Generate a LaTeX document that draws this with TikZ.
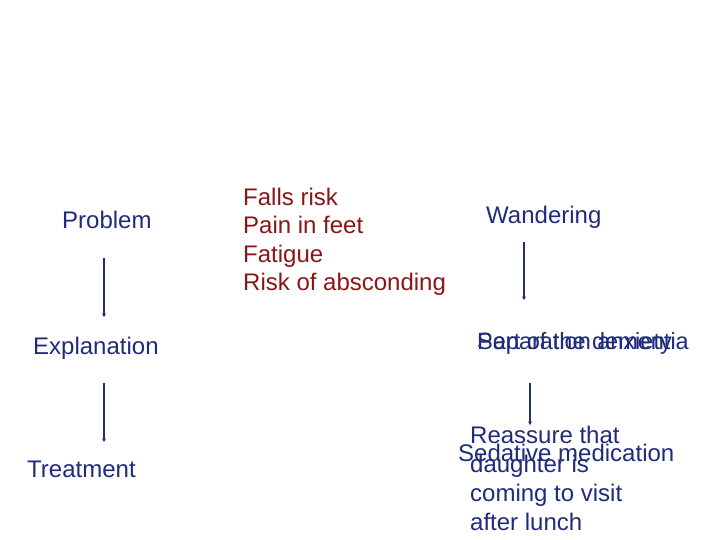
\documentclass[tikz,border=0pt]{standalone}
\usepackage{fontspec}
\setmainfont{Liberation Sans}
\usetikzlibrary{arrows.meta}
\definecolor{navy}{HTML}{1F2B7B}
\definecolor{darkred}{HTML}{8B1616}
\definecolor{linecol}{HTML}{23306E}
\begin{document}
\begin{tikzpicture}[x=1pt,y=1pt,
  lbl/.style={anchor=base west,inner sep=0pt,text=navy,font=\fontsize{24}{28.8}\selectfont},
  redlbl/.style={lbl,text=darkred},
  smalllbl/.style={lbl,font=\fontsize{23.5}{28}\selectfont},
  conn/.style={draw=linecol,line width=1.3pt,-{Stealth[length=3.5pt,width=4pt]}}]
\useasboundingbox (0,0) rectangle (720,540);
\fill[white] (0,0) rectangle (720,540);
% left column
\node[lbl] (problem) at (62,311) {Problem};
\node[lbl] (explanation) at (33,185) {Explanation};
\node[lbl] (treatment) at (27,62) {Treatment};
% middle column
\node[redlbl] (falls) at (243,334) {Falls risk};
\node[redlbl] (pain) at (243,306) {Pain in feet};
\node[redlbl] (fatigue) at (243,277) {Fatigue};
\node[redlbl] (abscond) at (243,249) {Risk of absconding};
% right column
\node[lbl] (wandering) at (486,316) {Wandering};
\node[smalllbl] (dementia) at (477,190) {Part of the dementia};
\node[smalllbl] (separation) at (477,190) {Separation anxiety};
\node[lbl] (reassure1) at (470,96) {Reassure that};
\node[lbl] (reassure2) at (470,67) {daughter is};
\node[lbl] (reassure3) at (470,38) {coming to visit};
\node[lbl] (reassure4) at (470,9) {after lunch};
\node[lbl] (sedative) at (458,78) {Sedative medication};
% connector ends
\coordinate (a1s) at (104,282);
\coordinate (a1e) at (104,223);
\coordinate (a2s) at (104,157);
\coordinate (a2e) at (104,98);
\coordinate (a3s) at (524,298);
\coordinate (a3e) at (524,240);
\coordinate (a4s) at (530,157);
\coordinate (a4e) at (530,115);
\draw[conn] (a1s) -- (a1e);
\draw[conn] (a2s) -- (a2e);
\draw[conn] (a3s) -- (a3e);
\draw[conn] (a4s) -- (a4e);
\end{tikzpicture}
\end{document}
